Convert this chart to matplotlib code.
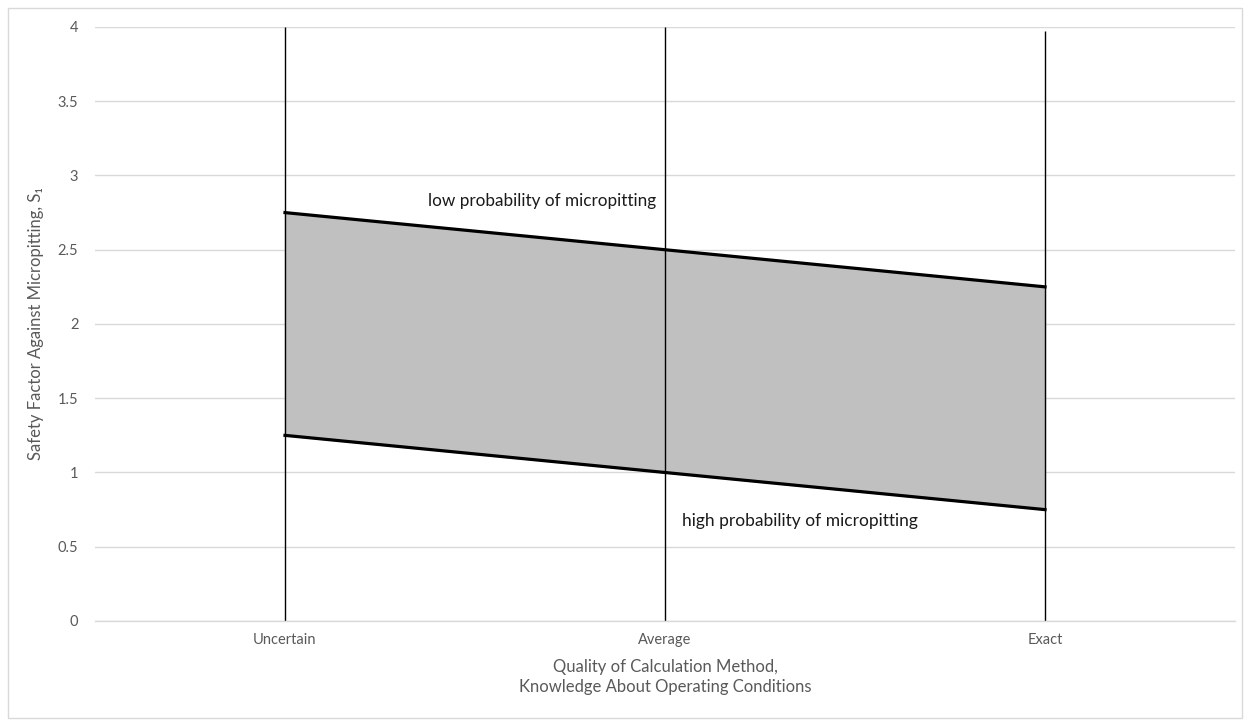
import matplotlib.pyplot as plt
from matplotlib.patches import Rectangle

plt.rcParams['font.family'] = ['Lato', 'DejaVu Sans']

categories = ["Uncertain", "Average", "Exact"]
upper = [2.75, 2.5, 2.25]
lower = [1.25, 1.0, 0.75]
line_top = [4.0, 4.0, 3.97]
y_ticks = [0, 0.5, 1, 1.5, 2, 2.5, 3, 3.5, 4]
y_tick_labels = ["0", "0.5", "1", "1.5", "2", "2.5", "3", "3.5", "4"]

fig = plt.figure(figsize=(12.5, 7.21), dpi=100)
ax = fig.add_axes([0.076, 0.1387, 0.912, 0.8239])

x = list(range(len(categories)))

# grey band between the two limits
ax.fill_between(x, lower, upper, color="#c0c0c0", zorder=1)
ax.plot(x, upper, color="black", linewidth=2.3, zorder=3)
ax.plot(x, lower, color="black", linewidth=2.3, zorder=3)

# vertical category lines
ax.vlines(x, 0, line_top, color="black", linewidth=1.0, zorder=2)

ax.set_xlim(-0.5, 2.5)
ax.set_ylim(0, 4)
ax.set_xticks(x)
ax.set_xticklabels(categories)
ax.set_yticks(y_ticks)
ax.set_yticklabels(y_tick_labels)
ax.tick_params(length=0, labelsize=10.5, colors="#595959", pad=12)
ax.tick_params(axis="x", pad=9)

ax.grid(axis="y", color="#d9d9d9", linewidth=1.0, zorder=0)
ax.set_axisbelow(True)
for s in ["top", "right", "left"]:
    ax.spines[s].set_visible(False)
ax.spines["bottom"].set_color("#d9d9d9")
ax.spines["bottom"].set_linewidth(1.0)

ax.set_ylabel("Safety Factor Against Micropitting, S\u2081", fontsize=12,
              color="#595959", labelpad=10)
ax.set_xlabel("Quality of Calculation Method,\nKnowledge About Operating Conditions",
              fontsize=12, color="#595959", labelpad=8, linespacing=1.35)

ax.text(0.375, 2.83, "low probability of micropitting", fontsize=12.3,
        color="#1a1a1a", va="center", ha="left")
ax.text(1.045, 0.67, "high probability of micropitting", fontsize=12.5,
        color="#1a1a1a", va="center", ha="left")

# chart area border
fig.patches.append(Rectangle((0.0065, 0.004), 0.987, 0.985, transform=fig.transFigure,
                             fill=False, edgecolor="#d9d9d9", linewidth=1.0))

fig.savefig("out.png", dpi=100)
